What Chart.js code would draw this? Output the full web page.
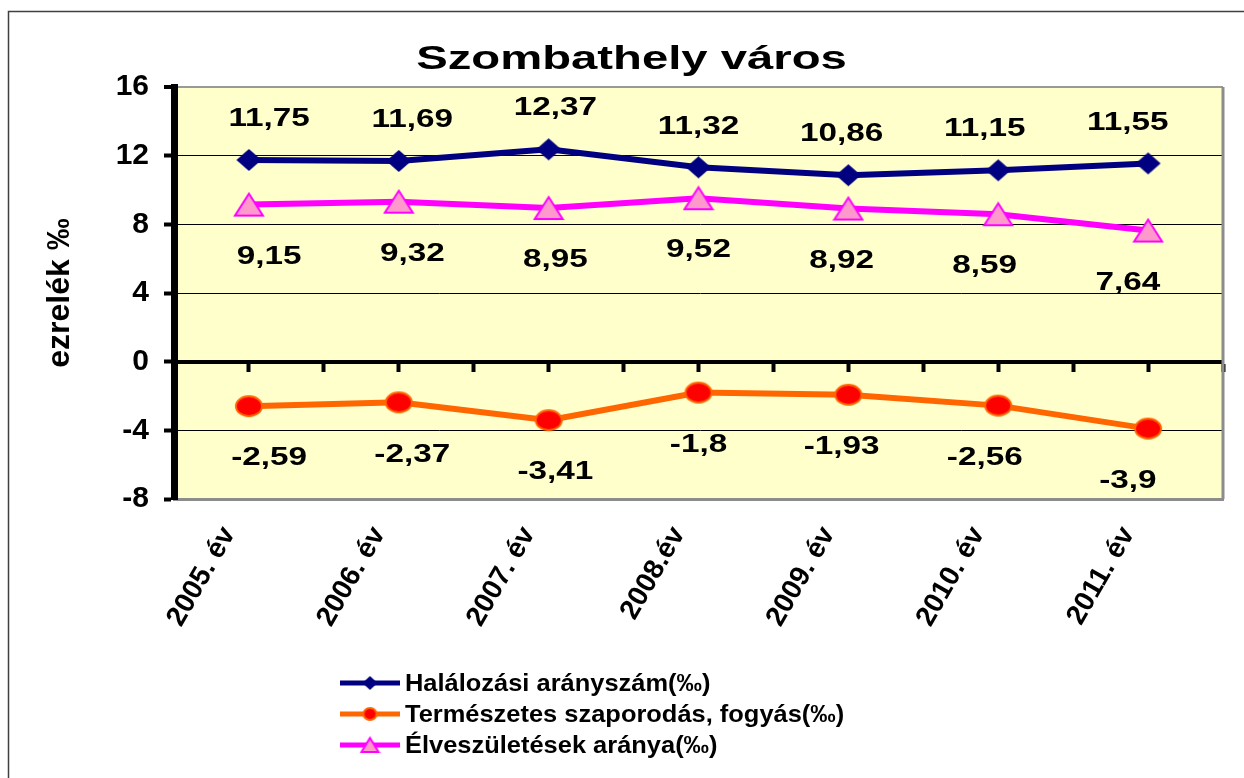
<!DOCTYPE html>
<html>
<head>
<meta charset="utf-8">
<script src="https://cdn.jsdelivr.net/npm/chart.js@4.4.0/dist/chart.umd.min.js"></script>
<style>
  html, body { margin: 0; padding: 0; background: #fff; }
  canvas { display: block; }
</style>
</head>
<body>
<canvas id="myChart" width="1244" height="778"></canvas>
<script>
const years = ['2005. év', '2006. év', '2007. év', '2008.év', '2009. év', '2010. év', '2011. év'];
const deathRate = [11.75, 11.69, 12.37, 11.32, 10.86, 11.15, 11.55];
const naturalChange = [-2.59, -2.37, -3.41, -1.8, -1.93, -2.56, -3.9];
const birthRate = [9.15, 9.32, 8.95, 9.52, 8.92, 8.59, 7.64];
const yTicks = [-8, -4, 0, 4, 8, 12, 16];
const seriesNames = ['Halálozási arányszám(‰)', 'Természetes szaporodás, fogyás(‰)', 'Élveszületések aránya(‰)'];
const chartTitle = 'Szombathely város';
const yTitle = 'ezrelék ‰';

const FONT = '"Liberation Sans", Arial, sans-serif';

// markers are a bit wider than tall, like in the original
function marker(kind, w, h, fill, stroke) {
  const c = document.createElement('canvas');
  c.width = w + 4;
  c.height = h + 4;
  const g = c.getContext('2d');
  g.translate(2, 2);
  g.beginPath();
  if (kind === 'diamond') {
    g.moveTo(w / 2, 0); g.lineTo(w, h / 2); g.lineTo(w / 2, h); g.lineTo(0, h / 2); g.closePath();
  } else if (kind === 'circle') {
    g.ellipse(w / 2, h / 2, w / 2, h / 2, 0, 0, Math.PI * 2);
  } else {
    g.moveTo(w / 2, 0); g.lineTo(w, h); g.lineTo(0, h); g.closePath();
  }
  g.fillStyle = fill;
  g.fill();
  if (stroke) {
    g.lineWidth = 2;
    g.strokeStyle = stroke;
    g.stroke();
  }
  return c;
}

const bigMarkers = [
  marker('diamond', 25, 22, '#000080'),
  marker('circle', 26, 20, '#FF0000', '#FF6600'),
  marker('triangle', 28, 22, '#FF99CC', '#FF00FF')
];
const smallMarkers = [
  marker('diamond', 15, 14, '#000080'),
  marker('circle', 13, 12, '#FF0000', '#FF6600'),
  marker('triangle', 17, 14, '#FF99CC', '#FF00FF')
];

const background = {
  id: 'background',
  beforeDraw(chart) {
    const { ctx, chartArea: a } = chart;
    ctx.save();
    ctx.fillStyle = '#fff';
    ctx.fillRect(0, 0, chart.width, chart.height);
    ctx.strokeStyle = '#404040';
    ctx.lineWidth = 1.5;
    ctx.beginPath();
    ctx.moveTo(8.5, chart.height);
    ctx.lineTo(8.5, 11.5);
    ctx.lineTo(chart.width, 11.5);
    ctx.stroke();
    ctx.fillStyle = '#FFFFCC';
    ctx.fillRect(a.left, a.top, a.right - a.left, a.bottom - a.top);
    ctx.restore();
  },
  beforeDatasetsDraw(chart) {
    const { ctx, chartArea: a } = chart;
    ctx.save();
    ctx.strokeStyle = '#8c8c8c';
    ctx.lineWidth = 3;
    ctx.beginPath();
    ctx.moveTo(a.right, a.top);
    ctx.lineTo(a.right, a.bottom);
    ctx.stroke();
    ctx.restore();
  }
};

const valueLabels = {
  id: 'valueLabels',
  afterDatasetsDraw(chart) {
    const { ctx, chartArea: a } = chart;
    const cx = (a.left + a.right) / 2;
    ctx.save();
    ctx.font = 'bold 26px ' + FONT;
    ctx.fillStyle = '#000';
    ctx.textAlign = 'center';
    ctx.textBaseline = 'middle';
    chart.data.datasets.forEach((ds, i) => {
      chart.getDatasetMeta(i).data.forEach((pt, j) => {
        ctx.save();
        ctx.translate(pt.x + (cx - pt.x) * 0.045, pt.y + ds.labelOffset);
        ctx.scale(1.28, 1);
        ctx.fillText(String(ds.data[j]).replace('.', ','), 0, 0);
        ctx.restore();
      });
    });
    ctx.restore();
  }
};

const titleAndLegend = {
  id: 'titleAndLegend',
  afterDraw(chart) {
    const { ctx, chartArea: a } = chart;
    ctx.save();
    ctx.fillStyle = '#000';
    ctx.textBaseline = 'middle';

    ctx.save();
    ctx.translate((a.left + a.right) / 2 - 67, 60);
    ctx.scale(1.39, 1);
    ctx.font = 'bold 34px ' + FONT;
    ctx.textAlign = 'center';
    ctx.fillText(chartTitle, 0, 0);
    ctx.restore();

    ctx.font = 'bold 24px ' + FONT;
    ctx.textAlign = 'left';
    chart.data.datasets.forEach((ds, i) => {
      const y = 683 + i * 31;
      ctx.strokeStyle = ds.borderColor;
      ctx.lineWidth = 5;
      ctx.beginPath();
      ctx.moveTo(340, y);
      ctx.lineTo(400, y);
      ctx.stroke();
      const m = smallMarkers[i];
      ctx.drawImage(m, 370 - m.width / 2, y - m.height / 2);
      ctx.save();
      ctx.translate(405, y);
      ctx.scale(1.06, 1);
      ctx.fillText(ds.label, 0, 1);
      ctx.restore();
    });
    ctx.restore();
  }
};

const ctx = document.getElementById('myChart').getContext('2d');
new Chart(ctx, {
  type: 'line',
  data: {
    labels: years,
    datasets: [
      {
        label: seriesNames[0],
        data: deathRate,
        borderColor: '#000080',
        backgroundColor: '#000080',
        borderWidth: 6,
        pointStyle: bigMarkers[0],
        labelOffset: -41
      },
      {
        label: seriesNames[1],
        data: naturalChange,
        borderColor: '#FF6600',
        backgroundColor: '#FF0000',
        borderWidth: 6,
        pointStyle: bigMarkers[1],
        labelOffset: 52
      },
      {
        label: seriesNames[2],
        data: birthRate,
        borderColor: '#FF00FF',
        backgroundColor: '#FF99CC',
        borderWidth: 6,
        pointStyle: bigMarkers[2],
        labelOffset: 52
      }
    ]
  },
  options: {
    responsive: false,
    animation: false,
    devicePixelRatio: 1,
    events: [],
    layout: { padding: { top: 87, right: 21, bottom: 0, left: 0 } },
    plugins: {
      legend: { display: false },
      tooltip: { enabled: false }
    },
    scales: {
      x: {
        offset: true,
        afterFit: s => { s.height = 279; },
        grid: { display: false, drawTicks: false },
        border: { color: '#8c8c8c', width: 3 },
        ticks: {
          font: { family: FONT, size: 28, weight: 'bold' },
          color: '#000',
          minRotation: 60,
          maxRotation: 60,
          autoSkip: false,
          labelOffset: -20,
          padding: 22
        }
      },
      x2: {
        type: 'linear',
        position: { y: 0 },
        min: -0.5,
        max: 6.5,
        ticks: { display: false, stepSize: 0.5 },
        grid: { drawOnChartArea: false, tickLength: 8, tickWidth: 4, tickColor: '#000' },
        border: { width: 4, color: '#000' }
      },
      y: {
        min: yTicks[0],
        max: yTicks[yTicks.length - 1],
        afterBuildTicks: s => { s.ticks = yTicks.map(v => ({ value: v })); },
        afterFit: s => { s.width = 174; },
        border: { width: 7, color: '#000' },
        grid: {
          color: c => c.tick.value === 16 ? '#999' : (c.tick.value === -8 ? 'rgba(0,0,0,0)' : '#000'),
          lineWidth: c => c.tick.value === 16 ? 2 : 1,
          tickColor: '#000',
          tickWidth: 4,
          tickLength: 10
        },
        ticks: {
          font: { family: FONT, size: 30, weight: 'bold' },
          color: '#000',
          padding: 15
        },
        title: {
          display: true,
          text: yTitle,
          font: { family: FONT, size: 32, weight: 'bold' },
          color: '#000',
          padding: { top: 41, bottom: 0 }
        }
      }
    }
  },
  plugins: [background, valueLabels, titleAndLegend]
});
</script>
</body>
</html>
